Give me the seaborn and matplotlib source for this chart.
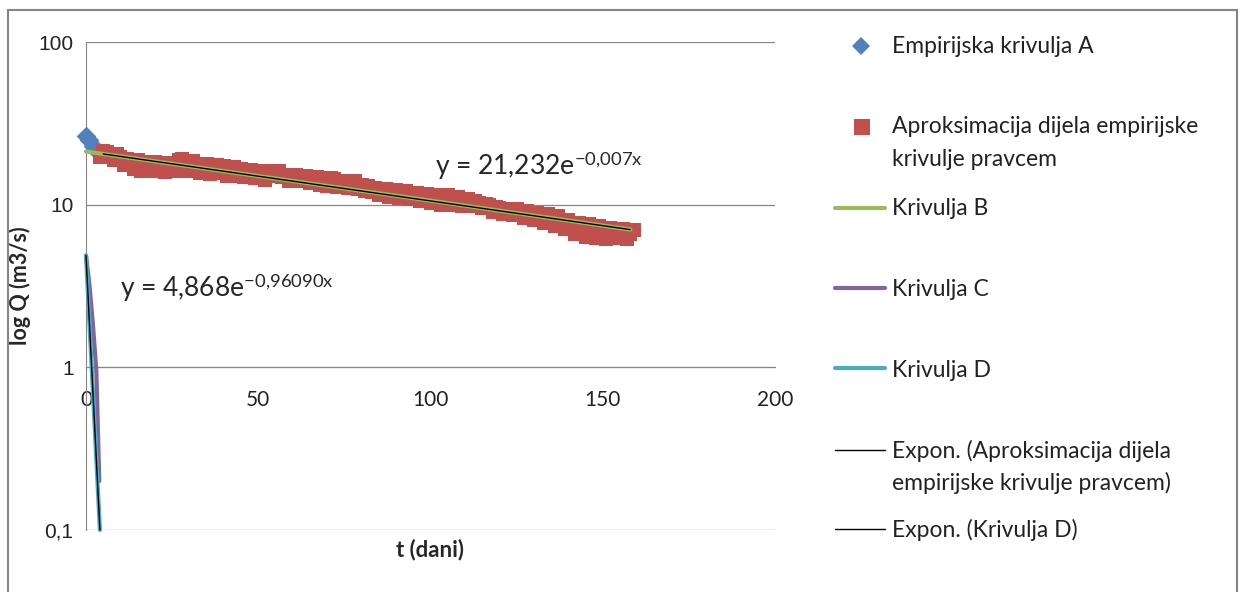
import numpy as np
import matplotlib
matplotlib.use("Agg")
import matplotlib.pyplot as plt
import seaborn as sns
from matplotlib.lines import Line2D
from matplotlib.patches import Rectangle
from matplotlib.ticker import NullLocator

# Empirijska krivulja A (only the start is visible, rest is under the red squares)
t_a = [0, 1, 2, 3, 4]
q_a = [26.5, 25.0, 22.8, 21.6, 20.6]

# Aproksimacija dijela empirijske krivulje pravcem - daily values, t = 4 .. 159
t_aprox = list(range(4, 160))
q_aprox = [
    19.6, 21.3, 21.0, 20.2, 18.8, 20.4, 19.5, 17.6, 19.2, 18.0,
    16.6, 18.8, 16.2, 18.3, 16.0, 17.2, 18.2, 16.0, 17.0, 15.9,
    18.0, 16.4, 16.0, 18.9, 19.0, 17.5, 16.0, 18.6, 17.6, 15.6,
    16.8, 17.7, 15.5, 16.4, 17.5, 15.6, 17.2, 15.1, 16.3, 17.0,
    15.0, 16.6, 14.8, 15.9, 16.4, 14.5, 15.3, 16.0, 14.1, 16.1,
    14.9, 15.6, 16.0, 14.8, 15.3, 14.0, 14.9, 15.2, 13.9, 14.6,
    15.0, 13.6, 14.2, 14.8, 13.3, 14.5, 13.1, 14.6, 14.3, 12.9,
    13.8, 14.0, 12.6, 13.5, 13.9, 12.4, 13.2, 12.1, 13.0, 12.0,
    12.7, 11.5, 12.4, 12.5, 11.2, 12.0, 12.3, 11.0, 11.8, 12.1,
    10.9, 11.6, 11.8, 10.6, 11.4, 11.7, 10.3, 11.0, 11.5, 10.0,
    10.9, 11.4, 9.9, 10.7, 11.2, 9.8, 10.4, 10.9, 9.8, 10.6,
    10.2, 9.5, 10.1, 9.9, 9.0, 9.7, 9.5, 8.8, 9.4, 9.3,
    8.7, 9.4, 9.0, 8.3, 9.2, 8.8, 8.0, 8.9, 8.6, 7.7,
    8.8, 8.2, 7.4, 8.5, 7.9, 7.1, 8.1, 7.6, 6.6, 7.7,
    7.2, 6.3, 7.6, 6.9, 6.2, 7.4, 6.6, 6.15, 7.2, 7.1,
    6.2, 6.8, 7.1, 6.15, 6.6, 7.0,
]

# Krivulja B, C, D
t_b = [0, 50, 100, 158]
q_b = [21.23, 14.99, 10.58, 7.03]

t_c = [0, 1, 2, 3, 3.85]
q_c = [4.87, 3.2, 1.85, 0.95, 0.2]

t_d = [0, 1, 2, 3, 4.04]
q_d = [4.87, 1.86, 0.71, 0.27, 0.10]

# exponential trendlines as given on the chart (a, b, t_start, t_end)
trend_aprox = (21.232, -0.007, 5, 158)
trend_d = (4.868, -0.9609, 0, 4.04)

eq_aprox = r'y = 21,232e$^{\mathregular{-0{,}007x}}$'
eq_d = r'y = 4,868e$^{\mathregular{-0{,}96090x}}$'

yticks = [0.1, 1, 10, 100]
ytick_labels = ['0,1', '1', '10', '100']
xticks = [0, 50, 100, 150, 200]

c_blue = '#4F81BD'
c_red = '#C0504D'
c_green = '#9BBB59'
c_purple = '#8064A2'
c_cyan = '#4BACC6'
c_grid = '#868686'

sns.set_style('white')
plt.rcParams['font.family'] = ['Lato', 'DejaVu Sans']
plt.rcParams['mathtext.fontset'] = 'custom'
plt.rcParams['mathtext.rm'] = 'Lato'
plt.rcParams['mathtext.it'] = 'Lato:italic'
plt.rcParams['mathtext.bf'] = 'Lato:bold'

W, H = 1240, 592
fig = plt.figure(figsize=(W / 100, H / 100), dpi=100)
ax = fig.add_axes([86 / W, 1 - 530 / H, (775 - 86) / W, (530 - 42) / H])


def fx(px):
    return px / W


def fy(py):
    return 1 - py / H


sns.scatterplot(x=t_a, y=q_a, ax=ax, marker='D', s=100, color=c_blue,
                linewidth=0, zorder=3, clip_on=False)
sns.scatterplot(x=t_aprox, y=q_aprox, ax=ax, marker='s', s=115, color=c_red,
                linewidth=0, zorder=4)
sns.lineplot(x=t_b, y=q_b, ax=ax, color=c_green, lw=3, sort=False,
             estimator=None, zorder=5)
for tt, qq, col, z in [(t_c, q_c, c_purple, 6), (t_d, q_d, c_cyan, 7)]:
    sns.lineplot(x=tt, y=qq, ax=ax, color=col, lw=3, sort=False,
                 estimator=None, zorder=z)
for ln in ax.lines:
    ln.set_clip_on(False)

for a, b, t0, t1 in [trend_aprox, trend_d]:
    tt = np.array([t0, t1])
    ax.plot(tt, a * np.exp(b * tt), color='black', lw=1, zorder=8, clip_on=False)

ax.set_yscale('log')
ax.set_ylim(0.1, 100)
ax.set_xlim(0, 200)
ax.set_yticks(yticks)
ax.set_yticklabels(ytick_labels, fontfamily='Liberation Sans')
ax.yaxis.set_minor_locator(NullLocator())
ax.set_xticks(xticks)
ax.set_xticklabels([str(v) for v in xticks])

ax.grid(axis='y', color=c_grid, lw=0.9, zorder=0)
ax.grid(axis='x', visible=False)
ax.set_axisbelow(True)
for s in ['top', 'right']:
    ax.spines[s].set_visible(False)
ax.spines['left'].set_color(c_grid)
ax.spines['bottom'].set_color(c_grid)
ax.spines['bottom'].set_position(('data', 1))
ax.tick_params(axis='x', length=0, pad=16, labelsize=15, labelcolor='#222222')
ax.tick_params(axis='y', length=6, width=0.9, color=c_grid, pad=3,
               labelsize=15, labelcolor='#222222')

ax.set_xlabel('t (dani)', fontweight='bold', fontsize=16)
ax.xaxis.set_label_coords(0.5, -0.018)
ax.set_ylabel('log Q (m3/s)', fontweight='bold', fontsize=15.5)
ax.yaxis.set_label_coords(-0.08, 0.5)

ax.text(101.3, 15.2, eq_aprox, fontsize=19, va='baseline', ha='left')
ax.text(9.9, 2.7, eq_d, fontsize=19, va='baseline', ha='left')

# legend, drawn in figure pixels
lx0, lx1, tx = 835, 885, 892
fig.add_artist(Line2D([fx(861)], [fy(46)], marker='D', ms=9, color=c_blue,
                      mew=0, transform=fig.transFigure))
fig.add_artist(Line2D([fx(862)], [fy(127)], marker='s', ms=12, color=c_red,
                      mew=0, transform=fig.transFigure))
for y, col, lw in [(208, c_green, 3), (288, c_purple, 3), (368, c_cyan, 3),
                   (450, 'black', 1), (529, 'black', 1)]:
    fig.add_artist(Line2D([fx(lx0), fx(lx1)], [fy(y), fy(y)], color=col, lw=lw,
                          solid_capstyle='round', transform=fig.transFigure))

legend_texts = [
    ('Empirijska krivulja A', 53),
    ('Aproksimacija dijela empirijske', 133),
    ('krivulje pravcem', 166),
    ('Krivulja B', 215),
    ('Krivulja C', 296),
    ('Krivulja D', 377),
    ('Expon. (Aproksimacija dijela', 458),
    ('empirijske krivulje pravcem)', 490),
    ('Expon. (Krivulja D)', 537),
]
for txt, y in legend_texts:
    fig.text(fx(tx), fy(y), txt, fontsize=16.5, va='baseline', ha='left',
             color='#222222')

fig.add_artist(Rectangle((fx(8), -0.05), fx(1237) - fx(8), fy(10) + 0.05,
                         fill=False, ec=c_grid, lw=1.5,
                         transform=fig.transFigure))

fig.savefig('out.png', dpi=100)
